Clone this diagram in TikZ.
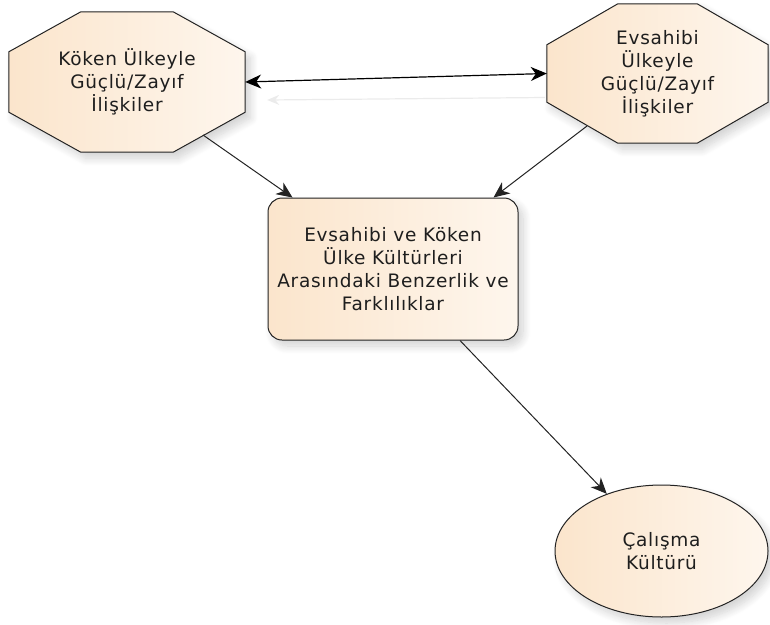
\documentclass[tikz,border=0pt]{standalone}
\usepackage{fontspec}
\setmainfont{DejaVu Sans}[LetterSpace=4]
\usetikzlibrary{arrows.meta,calc,shapes.geometric,backgrounds,shadows.blur}
\definecolor{peachA}{RGB}{251,229,204}
\definecolor{peachB}{RGB}{254,246,237}
\definecolor{edge}{RGB}{35,35,35}
\definecolor{txtc}{RGB}{30,30,30}
\newcommand\octpath[3]{($(#1.north west)+(#2,0)$) -- ($(#1.north east)+(-#2,0)$) -- ($(#1.north east)+(0,#3)$) -- ($(#1.south east)+(0,-#3)$) -- ($(#1.south east)+(-#2,0)$) -- ($(#1.south west)+(#2,0)$) -- ($(#1.south west)+(0,-#3)$) -- ($(#1.north west)+(0,#3)$) -- cycle}
\begin{document}
\begin{tikzpicture}[x=1pt,y=-1pt,
  txt/.style={align=center,text=txtc,font=\fontsize{18.5}{23}\selectfont,inner sep=0pt},
  shapefill/.style={draw=edge,line width=1pt,left color=peachA,right color=peachB,
    blur shadow={shadow xshift=5pt,shadow yshift=-6pt,shadow blur steps=10,shadow blur radius=8pt,shadow opacity=18}},
  conn/.style={draw=edge,line width=1pt,-{Stealth[length=16pt,width=14pt,inset=5pt]}},
  dbl/.style={draw=black,line width=1.2pt,{Stealth[length=16pt,width=14pt,inset=5pt]}-{Stealth[length=16pt,width=14pt,inset=5pt]}},
  faint/.style={draw=black!8,line width=1.2pt,{Stealth[length=12pt,width=10pt,inset=4pt]}-}
]
\useasboundingbox (0,0) rectangle (770,624);

\node[txt,minimum width=236pt,minimum height=140pt] (ko) at (127,82)
  {Köken Ülkeyle\\Güçlü/Zayıf\\İlişkiler};
\node[txt,minimum width=221pt,minimum height=139pt] (ev) at (657.5,73.5)
  {Evsahibi\\Ülkeyle\\Güçlü/Zayıf\\İlişkiler};
\node[txt,shapefill,rounded corners=14pt,minimum width=250pt,minimum height=142pt] (mid) at (393,269)
  {Evsahibi ve Köken\\Ülke Kültürleri\\Arasındaki Benzerlik ve\\Farklılıklar};
\node[txt,shapefill,ellipse,minimum width=213pt,minimum height=132pt] (ell) at (661.5,551)
  {Çalışma\\Kültürü};

\begin{scope}[on background layer]
  \path[shapefill] \octpath{ko}{72}{40};
  \path[shapefill] \octpath{ev}{71}{41};
\end{scope}

\draw[dbl] (ko.east) -- (ev.west);
\coordinate (fa) at ($(ko.east)+(22,18)$);
\coordinate (fb) at ($(ev.west)+(-2,24)$);
\draw[faint] (fa) -- (fb);
\draw[conn] ($(ko.center)+(76,53)$) -- ($(mid.north west)+(25,0)$);
\draw[conn] ($(ev.center)+(-70.5,52.5)$) -- ($(mid.north east)+(-25,0)$);
\draw[conn] ($(mid.south)+(67,0)$) -- (ell);
\end{tikzpicture}
\end{document}
